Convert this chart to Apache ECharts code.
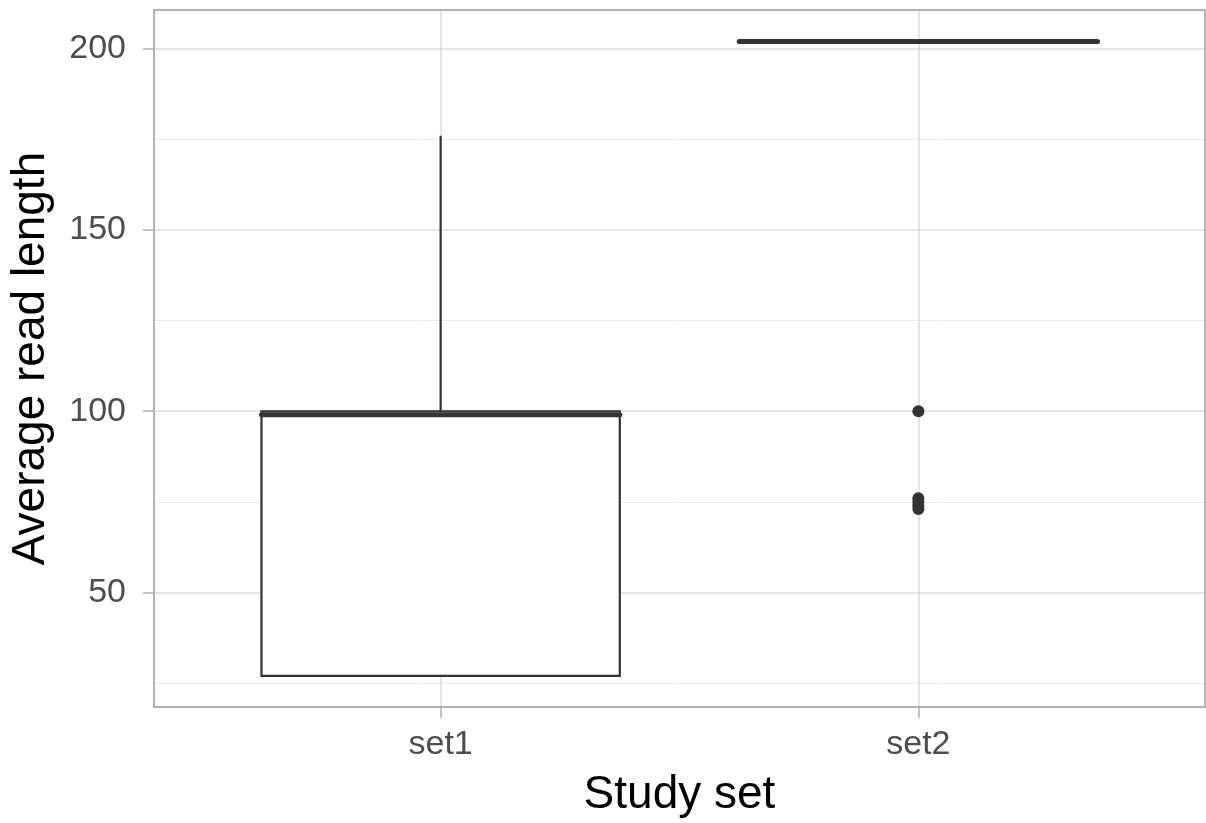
<!DOCTYPE html>
<html>
<head>
<meta charset="utf-8">
<script src="https://cdn.jsdelivr.net/npm/echarts@6/dist/echarts.min.js"></script>
<style>
  html, body { margin: 0; padding: 0; background: #fff; }
  #chart { width: 1206px; height: 823px; }
</style>
</head>
<body>
<div id="chart"></div>
<script>
// === DATA ===
const categories = ['set1', 'set2'];
const whiskerLow = [27, 202];
const q1Vals = [27, 202];
const medianVals = [99, 202];
const q3Vals = [100, 202];
const whiskerHigh = [176, 202];
// outliers: [category position, value]
const outlierX = [2, 2, 2, 2, 2];
const outlierY = [100, 76, 75, 74, 73];

const yMajorTicks = [50, 100, 150, 200];
const yMinorTicks = [25, 75, 125, 175];
const xTicks = [1, 2];

// === STYLE ===
const FONT = "'Liberation Sans', Arial, Helvetica, sans-serif";
const BOX_COLOR = '#333333';
const BOX_WIDTH = 0.75;

// === BUILD ===
const boxData = categories.map((c, i) => [i + 1, whiskerLow[i], q1Vals[i], medianVals[i], q3Vals[i], whiskerHigh[i]]);
const outlierData = outlierX.map((x, i) => [x, outlierY[i]]);

function renderBox(params, api) {
    const x = api.value(0);
    const lo = api.coord([x - BOX_WIDTH / 2, api.value(2)]);
    const hi = api.coord([x + BOX_WIDTH / 2, api.value(4)]);
    const med = api.coord([x - BOX_WIDTH / 2, api.value(3)]);
    const medR = api.coord([x + BOX_WIDTH / 2, api.value(3)]);
    const wLow = api.coord([x, api.value(1)]);
    const wHigh = api.coord([x, api.value(5)]);
    const cx = api.coord([x, api.value(3)])[0];
    const lineStyle = { stroke: BOX_COLOR, lineWidth: 2.2, fill: null };
    return {
        type: 'group',
        children: [
            { type: 'line', shape: { x1: cx, y1: wHigh[1], x2: cx, y2: hi[1] }, style: lineStyle },
            { type: 'line', shape: { x1: cx, y1: lo[1], x2: cx, y2: wLow[1] }, style: lineStyle },
            {
                type: 'rect',
                shape: { x: lo[0], y: hi[1], width: hi[0] - lo[0], height: lo[1] - hi[1] },
                style: { fill: '#ffffff', stroke: BOX_COLOR, lineWidth: 2.2 }
            },
            {
                type: 'line',
                shape: { x1: med[0], y1: med[1], x2: medR[0], y2: medR[1] },
                style: { stroke: BOX_COLOR, lineWidth: 5, lineCap: 'round' }
            }
        ]
    };
}

const gridLines = []
    .concat(yMinorTicks.map(v => ({ yAxis: v, lineStyle: { color: '#e8e8e8', width: 1, type: 'solid' } })))
    .concat(yMajorTicks.map(v => ({ yAxis: v, lineStyle: { color: '#dedede', width: 1.6, type: 'solid' } })))
    .concat(xTicks.map(v => ({ xAxis: v, lineStyle: { color: '#dedede', width: 1.6, type: 'solid' } })));

// === RENDER ===
const chart = echarts.init(document.getElementById('chart'), null, { renderer: 'canvas' });

const option = {
    backgroundColor: '#ffffff',
    animation: false,
    textStyle: { fontFamily: FONT },
    grid: {
        left: 153, right: 1, top: 10, bottom: 113,
        show: true, borderColor: '#b3b3b3', borderWidth: 2, backgroundColor: 'transparent', z: 10
    },
    xAxis: {
        type: 'value',
        min: 0.4,
        max: 2.6,
        name: 'Study set',
        nameLocation: 'middle',
        nameGap: 65,
        nameTextStyle: { fontSize: 46, color: '#000000', fontFamily: FONT },
        axisLine: { show: false },
        axisTick: { show: true, length: 11, customValues: xTicks, lineStyle: { color: '#b3b3b3', width: 1.6 } },
        axisLabel: {
            customValues: xTicks,
            formatter: v => categories[Math.round(v) - 1] || '',
            fontSize: 34, color: '#4d4d4d', margin: 21, fontFamily: FONT
        },
        splitLine: { show: false }
    },
    yAxis: {
        type: 'value',
        min: 18.4,
        max: 210.7,
        name: 'Average read length',
        nameLocation: 'middle',
        nameGap: 100,
        nameTextStyle: { fontSize: 46, color: '#000000', fontFamily: FONT },
        axisLine: { show: false },
        axisTick: { show: true, length: 11, customValues: yMajorTicks, lineStyle: { color: '#b3b3b3', width: 1.6 } },
        axisLabel: {
            customValues: yMajorTicks,
            fontSize: 34, color: '#4d4d4d', margin: 28, fontFamily: FONT
        },
        splitLine: { show: false }
    },
    series: [
        {
            type: 'line',
            data: [],
            silent: true,
            z: 1,
            markLine: {
                silent: true,
                z: 1,
                symbol: ['none', 'none'],
                label: { show: false },
                emphasis: { disabled: true },
                data: gridLines
            }
        },
        {
            type: 'custom',
            renderItem: renderBox,
            data: boxData,
            encode: { x: 0, y: [1, 2, 3, 4, 5] },
            z: 3,
            silent: true
        },
        {
            type: 'scatter',
            data: outlierData,
            symbol: 'circle',
            symbolSize: 12,
            itemStyle: { color: BOX_COLOR, opacity: 1 },
            z: 4,
            silent: true
        }
    ]
};

chart.setOption(option);
</script>
</body>
</html>
